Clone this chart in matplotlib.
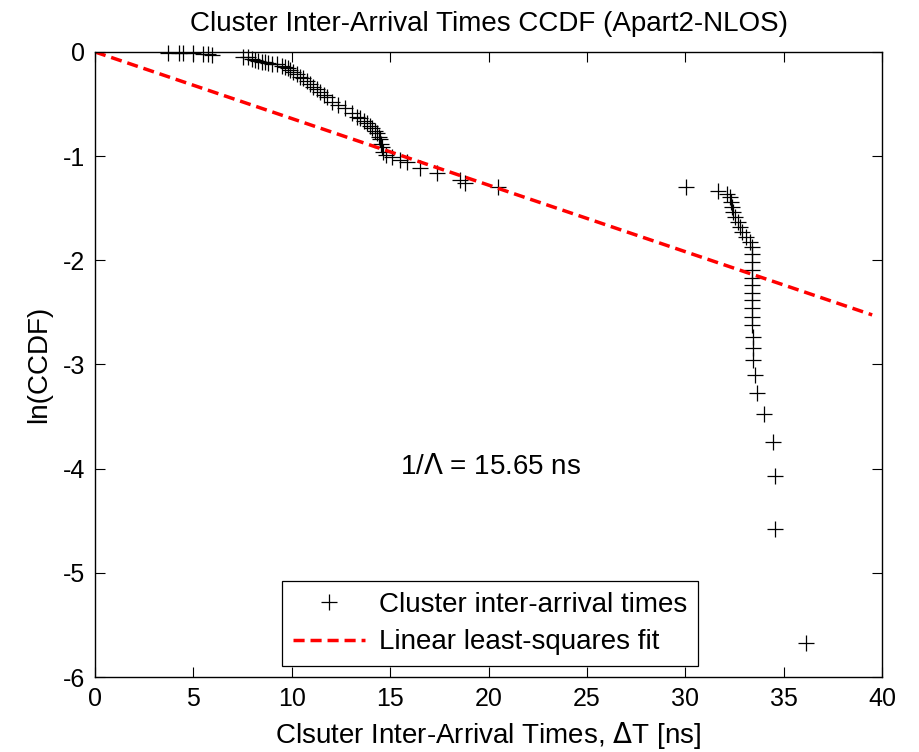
import matplotlib.pyplot as plt

plt.rcParams['font.family'] = ['Liberation Sans', 'DejaVu Sans']
plt.rcParams['axes.unicode_minus'] = False

# measured cluster inter-arrival times [ns] and ln(CCDF)
dt_ns = [3.71, 4.27, 4.47, 4.98, 5.49, 5.74, 5.95,
         7.52, 7.78, 7.98, 8.13, 8.28, 8.49, 8.64, 8.79, 9.00, 9.25,
         9.50, 9.66, 9.81, 9.91, 10.06, 10.27, 10.42, 10.57, 10.78, 10.93,
         11.08, 11.28, 11.44, 11.64, 11.79, 12.05, 12.35, 12.71, 13.06, 13.32,
         13.47, 13.67, 13.82, 13.98, 14.08, 14.23, 14.33, 14.43, 14.49, 14.54,
         14.59, 14.64, 14.79, 15.10, 15.50, 15.86, 16.52, 17.38, 18.55, 18.81,
         20.48,
         30.04, 31.66, 32.12, 32.27, 32.33, 32.38, 32.43, 32.53, 32.68, 32.78,
         32.88, 33.09, 33.29, 33.39, 33.39, 33.39, 33.39, 33.39, 33.39, 33.39,
         33.39, 33.39, 33.39, 33.39, 33.44, 33.44, 33.44, 33.55, 33.65,
         34.00, 34.46, 34.56, 34.56, 36.14]
ln_ccdf = [-0.01, -0.01, -0.01, -0.01, -0.02, -0.02, -0.03,
           -0.05, -0.05, -0.07, -0.08, -0.09, -0.10, -0.10, -0.11, -0.12, -0.12,
           -0.13, -0.14, -0.15, -0.17, -0.19, -0.21, -0.24, -0.25, -0.28, -0.31,
           -0.34, -0.36, -0.38, -0.41, -0.43, -0.48, -0.51, -0.54, -0.59, -0.62,
           -0.63, -0.66, -0.68, -0.71, -0.73, -0.76, -0.78, -0.82, -0.84, -0.88,
           -0.91, -0.96, -0.99, -1.01, -1.04, -1.06, -1.11, -1.16, -1.23, -1.26,
           -1.30,
           -1.30, -1.33, -1.36, -1.39, -1.44, -1.49, -1.54, -1.58, -1.63, -1.68,
           -1.73, -1.78, -1.82, -1.87, -1.94, -2.02, -2.09, -2.17, -2.24, -2.31,
           -2.38, -2.46, -2.54, -2.62, -2.74, -2.84, -2.96, -3.10, -3.27,
           -3.48, -3.74, -4.07, -4.58, -5.67]

# least-squares fit endpoints (slope -1/15.65)
fit_x = [0.0, 39.5]
fit_y = [0.0, -2.524]

xticks = [0, 5, 10, 15, 20, 25, 30, 35, 40]
yticks = [0, -1, -2, -3, -4, -5, -6]

fig = plt.figure(figsize=(9.2, 7.52), dpi=100)
ax = fig.add_axes([0.1033, 0.0997, 0.8554, 0.8312])

ax.plot(dt_ns, ln_ccdf, '+', color='black', markersize=12, markeredgewidth=0.9,
        clip_on=False, label='Cluster inter-arrival times')
ax.plot(fit_x, fit_y, '--', color='red', linewidth=2.5, dashes=(3.2, 1.7),
        label='Linear least-squares fit')

ax.set_xlim(0, 40)
ax.set_ylim(-6, 0)
ax.set_xticks(xticks)
ax.set_yticks(yticks)
ax.tick_params(direction='in', length=7, width=0.8, top=True, right=True,
               labelsize=18, pad=7)
for sp in ax.spines.values():
    sp.set_linewidth(1.0)

ax.set_title('Cluster Inter-Arrival Times CCDF (Apart2-NLOS)', fontsize=20, pad=15)
ax.set_xlabel('Clsuter Inter-Arrival Times, $\\Delta$T [ns]', fontsize=20, labelpad=7)
ax.set_ylabel('ln(CCDF)', fontsize=20, labelpad=8)

ax.text(20.1, -3.98, '1/$\\Lambda$ = 15.65 ns', fontsize=20, ha='center', va='center')

leg = ax.legend(loc='lower center', bbox_to_anchor=(0.502, 0.017), borderaxespad=0,
                fontsize=20, fancybox=False, edgecolor='black', framealpha=1,
                handlelength=2.6, handletextpad=0.5, borderpad=0.4, labelspacing=0.42)
leg.get_frame().set_linewidth(0.9)

fig.savefig('out.png', dpi=100)
